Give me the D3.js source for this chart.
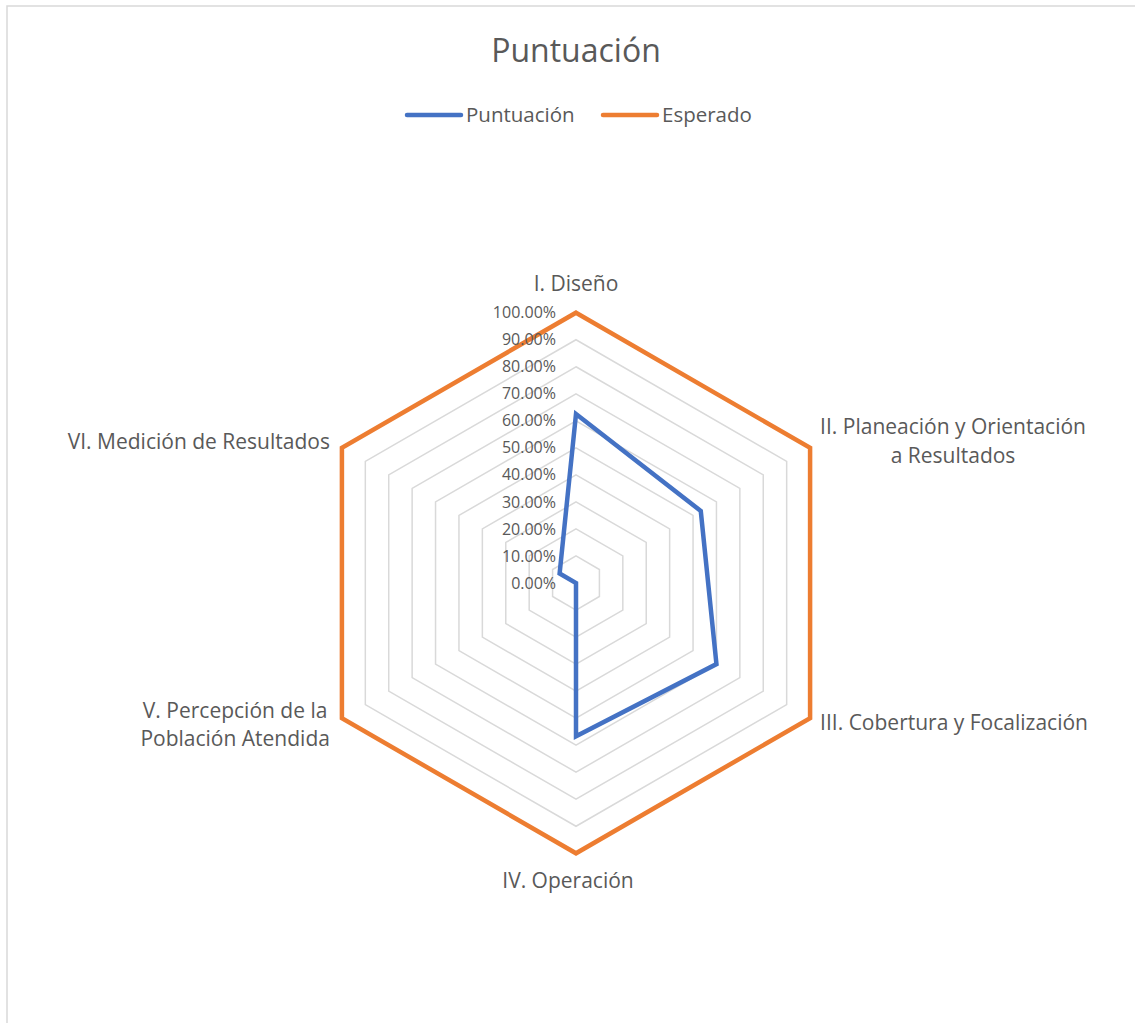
<!DOCTYPE html>
<html>
<head>
<meta charset="utf-8">
<script src="https://cdn.jsdelivr.net/npm/d3@7"></script>
<style>
  html, body { margin: 0; padding: 0; background: #fff; }
  svg { display: block; font-family: "Open Sans", Lato, sans-serif; }
</style>
</head>
<body>
<svg id="chart" width="1135" height="1023"></svg>
<script>
// ---- data ----
const categories = [
  ["I. Diseño"],
  ["II. Planeación y Orientación", "a Resultados"],
  ["III. Cobertura y Focalización"],
  ["IV. Operación"],
  ["V. Percepción de la", "Población Atendida"],
  ["VI. Medición de Resultados"]
];
const puntuacion = [0.625, 0.533, 0.60, 0.567, 0.0, 0.07];
const esperado = [1, 1, 1, 1, 1, 1];
const tickValues = [0, 0.1, 0.2, 0.3, 0.4, 0.5, 0.6, 0.7, 0.8, 0.9, 1.0];
const seriesNames = ["Puntuación", "Esperado"];
const chartTitle = "Puntuación";

// ---- layout ----
const svg = d3.select("#chart");
const cx = 576, cy = 583, R = 270.3;
const textColor = "#595959";
const colors = ["#4472C4", "#ED7D31"];

svg.append("rect").attr("x", 7).attr("y", 6).attr("width", 1200).attr("height", 1100)
  .attr("fill", "#fff").attr("stroke", "#d9d9d9").attr("stroke-width", 1.5);

const r = d3.scaleLinear().domain([0, 1]).range([0, R]);
const angle = d3.scaleLinear().domain([0, categories.length]).range([0, 2 * Math.PI]);
const pt = (i, v) => [cx + r(v) * Math.sin(angle(i)), cy - r(v) * Math.cos(angle(i))];

const g = svg.append("g");

// gridlines
tickValues.slice(1).forEach(t => {
  g.append("path")
    .attr("d", d3.line()(categories.map((c, i) => pt(i, t))) + "Z")
    .attr("fill", "none").attr("stroke", "#d9d9d9").attr("stroke-width", 1.5);
});

// series
[puntuacion, esperado].forEach((vals, s) => {
  g.append("path")
    .attr("d", d3.line()(vals.map((v, i) => pt(i, v))) + "Z")
    .attr("fill", "none").attr("stroke", colors[s]).attr("stroke-width", 4.5)
    .attr("stroke-linejoin", "miter");
});

// tick labels
g.selectAll(".tick").data(tickValues).enter().append("text")
  .attr("x", cx - 20).attr("y", d => cy - r(d))
  .attr("dy", "0.35em").attr("text-anchor", "end")
  .attr("font-size", 16).attr("fill", textColor)
  .text(d => d3.format(".2%")(d));

// category labels
const lh = 28.5;
const labelFont = 21;
categories.forEach((lines, i) => {
  const [vx, vy] = pt(i, 1);
  const t = svg.append("text").attr("font-size", labelFont).attr("fill", textColor);
  let anchor, x, y0;
  if (i === 0) { anchor = "middle"; x = vx; y0 = vy - 29; }
  else if (i === 3) { anchor = "middle"; x = vx - 8; y0 = vy + 27; }
  else if (i === 1 || i === 2) { anchor = "start"; x = vx + 10; y0 = vy - (lines.length === 2 ? 21 : -4); }
  else { anchor = "end"; x = vx - 12; y0 = vy - (lines.length === 2 ? 8 : 6); }
  const spans = lines.map((l, k) => t.append("tspan").attr("y", y0 + k * lh).attr("dy", "0.35em").text(l));
  if (lines.length > 1) {
    const widths = spans.map(s => s.node().getComputedTextLength());
    const W = Math.max(...widths);
    const mid = anchor === "start" ? x + W / 2 : (anchor === "end" ? x - W / 2 : x);
    spans.forEach(s => s.attr("x", mid).attr("text-anchor", "middle"));
  } else {
    spans.forEach(s => s.attr("x", x).attr("text-anchor", anchor));
  }
});

// title
svg.append("text").attr("x", cx).attr("y", 51).attr("dy", "0.35em")
  .attr("text-anchor", "middle").attr("font-size", 32).attr("fill", textColor)
  .text(chartTitle);

// legend
const legend = svg.append("g");
const legendX = [407, 603];
seriesNames.forEach((n, s) => {
  legend.append("line").attr("x1", legendX[s]).attr("x2", legendX[s] + 54)
    .attr("y1", 115).attr("y2", 115).attr("stroke", colors[s]).attr("stroke-width", 4.5)
    .attr("stroke-linecap", "round");
  legend.append("text").attr("x", legendX[s] + 59).attr("y", 115).attr("dy", "0.35em")
    .attr("font-size", 20.5).attr("fill", textColor).text(n);
});
</script>
</body>
</html>
